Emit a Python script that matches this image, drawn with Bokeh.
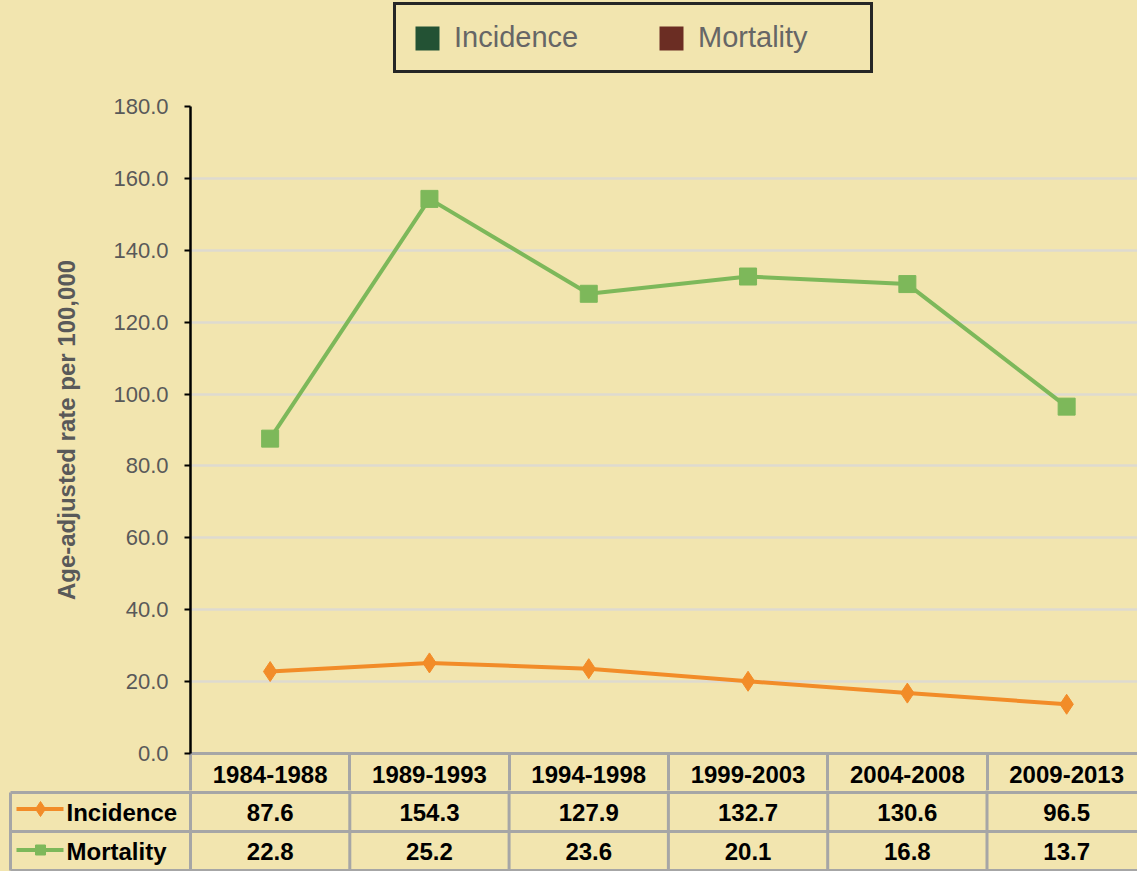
from bokeh.plotting import figure
from bokeh.models import (Range1d, FixedTicker, NumeralTickFormatter, Legend, LegendItem,
                          ColumnDataSource)
from bokeh.layouts import column
from bokeh.embed import file_html
from bokeh.resources import INLINE
from bokeh.core.properties import value

# ---------------- data ----------------
periods = ["1984-1988", "1989-1993", "1994-1998", "1999-2003", "2004-2008", "2009-2013"]
incidence = [87.6, 154.3, 127.9, 132.7, 130.6, 96.5]
mortality = [22.8, 25.2, 23.6, 20.1, 16.8, 13.7]
y_ticks = [0, 20, 40, 60, 80, 100, 120, 140, 160, 180]
series_names = ["Incidence", "Mortality"]
y_title = "Age-adjusted rate per 100,000"

# ---------------- style / layout constants ----------------
BG = "#F2E5AF"
GREEN = "#7DB85A"
ORANGE = "#F28C28"
BORDER = "#A6A6A6"
GRID = "#DEDAD0"
TXT_GRAY = "#595959"
FONT = "Liberation Sans"

FIG_W = 1137
LEFT_W = 190                 # space left of the plot frame
UNIT = 159.3                 # pixels per category column
X_END = (FIG_W - LEFT_W) / UNIT
LEG_H = 80                   # legend strip height
A_TOP = 106                  # page y of the 180 gridline
ZERO_Y = 753                 # page y of the 0 gridline
SEAM = 790                   # page y where the table body figure starts
PAGE_H = 871
ROW_H = 39


def px2x(px):
    """page pixel -> column units (chart frame starts at page x = LEFT_W)"""
    return (px - LEFT_W) / UNIT


xs = [i + 0.5 for i in range(len(periods))]
bounds = list(range(len(periods) + 1))

# ---------------- legend strip ----------------
lg = figure(width=FIG_W, height=LEG_H, x_range=Range1d(0, 1), y_range=Range1d(0, 1),
            output_backend="svg", toolbar_location=None, x_axis_location=None,
            y_axis_location=None, min_border_left=0, min_border_right=0,
            min_border_top=0, min_border_bottom=0, background_fill_color=BG,
            border_fill_color=BG, outline_line_color=None, frame_align=False)
lg.grid.visible = False
# swatch renderers (their single quad lies outside the visible range)
lsrc = ColumnDataSource(dict(l=[2], r=[3], t=[3], b=[2]))
r_inc = lg.quad(left="l", right="r", top="t", bottom="b", source=lsrc,
                fill_color="#235234", line_color=None)
r_mort = lg.quad(left="l", right="r", top="t", bottom="b", source=lsrc,
                 fill_color="#6B2D23", line_color=None)
legend = Legend(items=[LegendItem(label=series_names[0], renderers=[r_inc]),
                       LegendItem(label=series_names[1], renderers=[r_mort])],
                orientation="horizontal", location=(393, 7), margin=0,
                padding=16, spacing=46, label_standoff=12, label_width=156,
                glyph_width=30, glyph_height=30,
                border_line_color="#262626", border_line_width=3, border_line_alpha=1.0,
                background_fill_color=BG, background_fill_alpha=1.0,
                label_text_font=FONT, label_text_font_size="29px",
                label_text_color="#666666")
lg.add_layout(legend, "center")

# ---------------- chart (with the table header as its x axis) ----------------
p = figure(width=FIG_W, height=SEAM - LEG_H, x_range=Range1d(0, X_END),
           y_range=Range1d(0, 180), output_backend="svg",
           toolbar_location=None,
           min_border_left=LEFT_W, min_border_right=0, min_border_top=A_TOP - LEG_H,
           min_border_bottom=SEAM - ZERO_Y, background_fill_color=BG, border_fill_color=BG,
           outline_line_color=None, frame_align=False)
p.xgrid.visible = False
p.ygrid.ticker = FixedTicker(ticks=y_ticks[1:])
p.ygrid.grid_line_color = GRID
p.ygrid.grid_line_width = 2.5

xax = p.xaxis[0]
xax.ticker = FixedTicker(ticks=xs, minor_ticks=bounds)
xax.major_label_overrides = {x: lab for x, lab in zip(xs, periods)}
xax.axis_line_color = BORDER
xax.axis_line_width = 3
xax.major_tick_line_color = None
xax.major_tick_out = 0
xax.major_tick_in = 0
xax.minor_tick_line_color = BORDER
xax.minor_tick_line_width = 3
xax.minor_tick_out = SEAM - ZERO_Y
xax.minor_tick_in = 0
xax.major_label_standoff = -25
xax.major_label_text_font = FONT
xax.major_label_text_font_size = "24px"
xax.major_label_text_font_style = "bold"
xax.major_label_text_color = "black"

yax = p.yaxis[0]
yax.ticker = FixedTicker(ticks=y_ticks)
yax.formatter = NumeralTickFormatter(format="0.0")
yax.axis_line_color = "black"
yax.axis_line_width = 2.5
yax.major_tick_line_color = "black"
yax.major_tick_line_width = 2
yax.major_tick_out = 6
yax.major_tick_in = 0
yax.minor_tick_line_color = None
yax.major_label_text_font = FONT
yax.major_label_text_font_size = "22px"
yax.major_label_text_color = TXT_GRAY
yax.major_label_standoff = 16
yax.axis_label = y_title
yax.axis_label_text_font = FONT
yax.axis_label_text_font_size = "24px"
yax.axis_label_text_font_style = "bold"
yax.axis_label_text_color = TXT_GRAY
yax.axis_label_standoff = 30

src = ColumnDataSource(dict(x=xs, inc=incidence, mort=mortality))
p.line("x", "inc", source=src, line_color=GREEN, line_width=4)
p.scatter("x", "inc", source=src, marker="square", size=17, fill_color=GREEN, line_color=GREEN)
p.line("x", "mort", source=src, line_color=ORANGE, line_width=4)
p.scatter("x", "mort", source=src, marker="diamond", size=20, fill_color=ORANGE, line_color=ORANGE)

# ---------------- data table body ----------------
t = figure(width=FIG_W, height=PAGE_H - SEAM, x_range=Range1d(-LEFT_W / UNIT, X_END),
           y_range=Range1d(-(PAGE_H - ZERO_Y), -(SEAM - ZERO_Y)), output_backend="svg",
           toolbar_location=None, x_axis_location=None, y_axis_location=None,
           min_border_left=0, min_border_right=0, min_border_top=0, min_border_bottom=0,
           background_fill_color=BG, border_fill_color=BG, outline_line_color=None,
           frame_align=False)
t.grid.visible = False

x_left = px2x(10)
hy = [-ROW_H, -2 * ROW_H, -3 * ROW_H]
t.segment(x0=[x_left] * 3, y0=hy, x1=[len(periods)] * 3, y1=hy, line_color=BORDER, line_width=3)
t.segment(x0=bounds, y0=[-ROW_H + 5] * len(bounds), x1=bounds, y1=[-3 * ROW_H] * len(bounds),
          line_color=BORDER, line_width=3)
t.segment(x0=[x_left], y0=[-ROW_H], x1=[x_left], y1=[-3 * ROW_H], line_color=BORDER, line_width=3)

row_c = [-1.5 * ROW_H, -2.5 * ROW_H]
common = dict(text_align="center", text_baseline="middle", text_font=value(FONT),
              text_font_style="bold", text_font_size="24px", text_color="black")
t.text(x=xs, y=[row_c[0]] * len(xs), text=[f"{v:.1f}" for v in incidence], **common)
t.text(x=xs, y=[row_c[1]] * len(xs), text=[f"{v:.1f}" for v in mortality], **common)

# row keys
k0, k1, km = px2x(16), px2x(63), px2x(40)
t.segment(x0=[k0], y0=[row_c[0] + 3], x1=[k1], y1=[row_c[0] + 3], line_color=ORANGE, line_width=4)
t.scatter(x=[km], y=[row_c[0] + 3], marker="diamond", size=15, fill_color=ORANGE, line_color=ORANGE)
t.segment(x0=[k0], y0=[row_c[1] + 1], x1=[k1], y1=[row_c[1] + 1], line_color=GREEN, line_width=4)
t.scatter(x=[km], y=[row_c[1] + 1], marker="square", size=10, fill_color=GREEN, line_color=GREEN)
t.text(x=[px2x(66)] * 2, y=row_c, text=series_names,
       text_align="left", text_baseline="middle", text_font=value(FONT),
       text_font_style="bold", text_font_size="24px", text_color="black")

layout = column(lg, p, t, spacing=0, styles={"background-color": BG})
open("out.html", "w").write(file_html(layout, INLINE))
